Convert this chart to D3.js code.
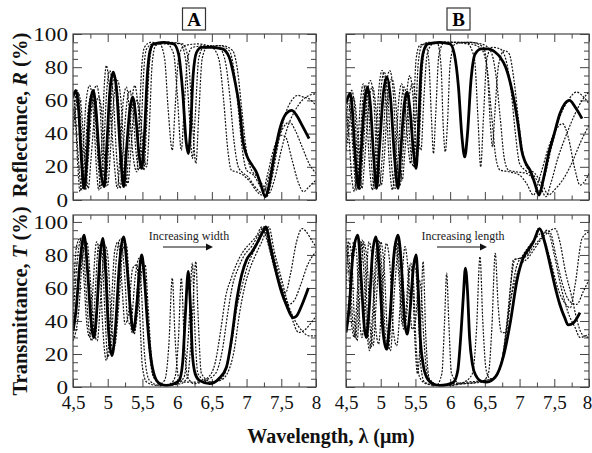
<!DOCTYPE html>
<html>
<head>
<meta charset="utf-8">
<script src="https://cdn.jsdelivr.net/npm/d3@7/dist/d3.min.js"></script>
<style>
  body { margin: 0; background: #fff; }
  svg { display: block; font-family: "Liberation Serif", "Times New Roman", serif; }
</style>
</head>
<body>
<svg id="chart" width="592" height="453"></svg>
<script>
// ---- tick labels ----
const xTicks = [4.5, 5, 5.5, 6, 6.5, 7, 7.5, 8];
const yTicks = [0, 20, 40, 60, 80, 100];

// ---- A, reflectance (wavelength µm, R %) ----
const refASolid = [[4.5,62],[4.54,66],[4.58,55],[4.62,25],[4.66,7],[4.70,25],[4.74,55],[4.79,66],[4.83,55],[4.88,25],[4.95,8],[4.99,35],[5.03,65],[5.08,77],[5.13,65],[5.18,30],[5.23,8],[5.27,30],[5.32,55],[5.36,62],[5.40,52],[5.45,28],[5.49,19],[5.53,40],[5.57,75],[5.61,90],[5.66,94],[5.8,95],[5.95,94],[6.02,88],[6.08,65],[6.13,35],[6.16,28],[6.19,40],[6.23,75],[6.28,89],[6.35,92],[6.5,92],[6.65,91],[6.75,86],[6.83,72],[6.9,55],[6.95,35],[7.0,27],[7.08,21],[7.15,16],[7.2,10],[7.27,2],[7.32,8],[7.4,27],[7.48,43],[7.57,52],[7.65,54],[7.72,51],[7.8,45],[7.9,37]];
const refADot1 = [[4.5,55],[4.53,50],[4.57,20],[4.6,5],[4.64,25],[4.69,60],[4.74,69],[4.79,55],[4.84,18],[4.87,6],[4.91,30],[4.96,75],[4.98,81],[5.02,70],[5.08,30],[5.14,7],[5.18,30],[5.23,62],[5.27,68],[5.31,55],[5.37,25],[5.42,17],[5.45,45],[5.49,80],[5.53,92],[5.62,95],[5.75,94],[5.82,85],[5.87,55],[5.93,30],[5.97,55],[6.02,85],[6.1,93],[6.3,94],[6.5,92],[6.6,85],[6.67,60],[6.73,30],[6.78,18],[6.85,17],[6.95,15],[7.05,11],[7.15,5],[7.22,3],[7.3,15],[7.4,32],[7.5,39],[7.56,38],[7.65,25],[7.75,10],[7.82,5],[7.9,8],[8,12]];
const refADot2 = [[4.5,62],[4.52,60],[4.56,35],[4.63,6],[4.67,25],[4.72,55],[4.77,64],[4.82,50],[4.87,18],[4.9,7],[4.94,30],[4.99,68],[5.03,78],[5.08,62],[5.13,25],[5.18,7],[5.22,30],[5.28,60],[5.32,66],[5.36,55],[5.41,28],[5.45,18],[5.48,40],[5.52,78],[5.56,91],[5.65,94],[5.85,94],[5.95,88],[6.0,65],[6.06,30],[6.1,55],[6.15,85],[6.22,92],[6.45,93],[6.62,91],[6.7,82],[6.76,62],[6.82,35],[6.88,20],[6.93,17],[7.02,14],[7.12,8],[7.24,4],[7.32,14],[7.42,32],[7.52,43],[7.62,47],[7.7,42],[7.8,32],[7.9,22],[8,16]];
const refADot3 = [[4.5,45],[4.53,60],[4.56,66],[4.6,55],[4.64,25],[4.68,6],[4.72,25],[4.78,60],[4.84,69],[4.89,55],[4.93,22],[4.97,8],[5.01,30],[5.06,65],[5.1,75],[5.15,62],[5.21,25],[5.26,8],[5.3,28],[5.35,60],[5.39,69],[5.44,55],[5.49,27],[5.52,18],[5.56,45],[5.6,82],[5.65,93],[5.8,95],[6.05,94],[6.12,85],[6.17,55],[6.22,25],[6.26,50],[6.31,85],[6.38,92],[6.6,93],[6.75,90],[6.82,78],[6.88,55],[6.94,30],[7.0,18],[7.1,15],[7.2,8],[7.29,2],[7.36,12],[7.46,35],[7.56,52],[7.65,60],[7.74,63],[7.82,62],[7.9,61],[8,57]];
const refADot4 = [[4.5,40],[4.54,55],[4.58,64],[4.62,55],[4.67,25],[4.72,7],[4.76,25],[4.82,55],[4.87,62],[4.92,50],[4.96,22],[5.0,9],[5.04,30],[5.09,62],[5.14,72],[5.19,60],[5.24,25],[5.29,10],[5.33,28],[5.38,55],[5.42,60],[5.47,50],[5.52,27],[5.56,20],[5.6,45],[5.64,82],[5.69,93],[5.85,95],[6.08,94],[6.16,85],[6.21,55],[6.27,22],[6.31,50],[6.36,85],[6.43,92],[6.65,93],[6.8,90],[6.87,78],[6.93,55],[6.99,32],[7.05,20],[7.15,14],[7.25,8],[7.32,4],[7.4,12],[7.5,30],[7.6,45],[7.7,54],[7.8,60],[7.9,63],[8,64]];

// ---- A, transmittance (wavelength µm, T %) ----
const trASolid = [[4.5,34],[4.54,45],[4.6,75],[4.66,92],[4.71,70],[4.76,40],[4.8,30],[4.84,45],[4.89,80],[4.93,90],[4.97,70],[5.01,35],[5.06,19],[5.11,35],[5.17,75],[5.23,91],[5.28,72],[5.33,45],[5.37,34],[5.42,50],[5.46,72],[5.49,80],[5.53,65],[5.57,40],[5.62,18],[5.68,6],[5.75,2],[5.85,1],[5.95,2],[6.03,4],[6.08,15],[6.12,45],[6.16,70],[6.19,50],[6.22,20],[6.26,8],[6.32,4],[6.47,2],[6.6,5],[6.71,12],[6.78,28],[6.86,53],[6.93,68],[7.0,77],[7.08,82],[7.15,87],[7.22,93],[7.28,97],[7.33,88],[7.38,78],[7.43,69],[7.5,58],[7.58,49],[7.67,42],[7.72,43],[7.8,50],[7.89,60]];
const trADot1 = [[4.5,50],[4.55,85],[4.6,90],[4.65,70],[4.7,38],[4.74,30],[4.78,55],[4.84,88],[4.88,80],[4.93,35],[4.98,16],[5.04,40],[5.1,82],[5.15,88],[5.2,65],[5.25,38],[5.3,45],[5.36,72],[5.42,74],[5.46,45],[5.5,12],[5.56,3],[5.7,1],[5.82,4],[5.88,25],[5.93,66],[5.97,30],[6.02,6],[6.1,3],[6.3,3],[6.45,6],[6.55,15],[6.63,35],[6.7,55],[6.78,66],[6.86,75],[6.95,82],[7.05,87],[7.15,92],[7.22,97],[7.3,88],[7.4,72],[7.5,60],[7.56,57],[7.63,68],[7.72,88],[7.8,96],[7.86,94],[7.95,88],[8,85]];
const trADot2 = [[4.5,40],[4.57,80],[4.63,91],[4.68,65],[4.73,35],[4.77,28],[4.81,50],[4.87,86],[4.91,85],[4.96,45],[5.0,18],[5.06,35],[5.13,80],[5.19,90],[5.24,70],[5.29,40],[5.33,38],[5.4,68],[5.45,78],[5.49,55],[5.53,20],[5.6,4],[5.75,1],[5.9,2],[5.97,6],[6.02,30],[6.06,66],[6.1,30],[6.15,6],[6.25,2],[6.4,4],[6.55,8],[6.65,22],[6.73,45],[6.8,62],[6.88,72],[6.97,80],[7.07,85],[7.17,92],[7.25,97],[7.32,86],[7.42,70],[7.52,56],[7.6,50],[7.68,52],[7.78,62],[7.88,74],[8,82]];
const trADot3 = [[4.5,30],[4.56,55],[4.62,85],[4.68,88],[4.73,60],[4.78,32],[4.82,30],[4.87,60],[4.93,88],[4.97,82],[5.02,40],[5.08,22],[5.13,45],[5.2,85],[5.25,88],[5.3,60],[5.35,33],[5.39,40],[5.45,70],[5.51,76],[5.55,55],[5.6,22],[5.66,6],[5.8,1],[6.0,2],[6.1,6],[6.16,30],[6.22,75],[6.25,40],[6.3,8],[6.45,3],[6.6,4],[6.7,10],[6.78,25],[6.86,48],[6.94,62],[7.02,74],[7.1,82],[7.2,90],[7.29,97],[7.36,85],[7.45,70],[7.55,55],[7.65,42],[7.75,33],[7.85,35],[7.95,40],[8,43]];
const trADot4 = [[4.5,28],[4.58,45],[4.64,80],[4.7,88],[4.75,65],[4.8,35],[4.85,28],[4.9,55],[4.96,86],[5.0,80],[5.05,40],[5.1,25],[5.16,50],[5.22,84],[5.27,86],[5.32,55],[5.38,32],[5.43,45],[5.5,72],[5.54,74],[5.58,50],[5.63,18],[5.7,4],[5.85,1],[6.05,2],[6.15,6],[6.21,35],[6.27,76],[6.3,45],[6.35,8],[6.5,3],[6.62,4],[6.72,8],[6.82,22],[6.9,45],[6.98,62],[7.05,72],[7.13,80],[7.22,88],[7.32,97],[7.4,82],[7.5,66],[7.6,50],[7.7,40],[7.8,34],[7.9,31],[8,31]];

// ---- B, reflectance ----
const refBSolid = [[4.5,58],[4.53,62],[4.56,64],[4.59,55],[4.63,28],[4.68,7],[4.72,30],[4.77,60],[4.81,68],[4.85,58],[4.9,25],[4.94,7],[4.98,30],[5.04,65],[5.09,74],[5.14,62],[5.2,25],[5.25,7],[5.29,30],[5.34,58],[5.38,65],[5.42,55],[5.47,30],[5.51,19],[5.54,40],[5.58,78],[5.62,90],[5.68,94],[5.85,95],[6.0,94],[6.06,88],[6.12,68],[6.17,38],[6.21,26],[6.25,40],[6.3,72],[6.36,88],[6.45,91],[6.55,91],[6.65,89],[6.72,86],[6.8,80],[6.87,70],[6.93,58],[6.98,45],[7.03,30],[7.08,23],[7.15,18],[7.22,10],[7.28,3],[7.34,12],[7.42,28],[7.5,40],[7.58,52],[7.65,58],[7.72,60],[7.8,56],[7.9,49]];
const refBDot1 = [[4.5,55],[4.54,40],[4.58,15],[4.62,5],[4.66,25],[4.71,60],[4.75,70],[4.79,58],[4.84,20],[4.88,6],[4.92,25],[4.97,65],[5.02,78],[5.07,65],[5.12,25],[5.17,6],[5.21,25],[5.26,60],[5.3,70],[5.35,58],[5.4,30],[5.43,22],[5.47,50],[5.51,85],[5.56,93],[5.64,94],[5.69,85],[5.73,50],[5.76,28],[5.79,50],[5.84,88],[5.92,95],[6.1,95],[6.3,94],[6.45,91],[6.53,80],[6.6,50],[6.66,25],[6.72,18],[6.85,17],[7.0,15],[7.1,10],[7.2,3],[7.3,15],[7.42,32],[7.52,42],[7.62,46],[7.7,38],[7.8,18],[7.87,9],[7.95,12],[8,16]];
const refBDot2 = [[4.5,45],[4.53,58],[4.56,55],[4.6,30],[4.65,6],[4.69,25],[4.74,60],[4.78,69],[4.82,58],[4.87,20],[4.91,7],[4.95,25],[5.0,65],[5.05,77],[5.1,65],[5.15,25],[5.21,7],[5.25,25],[5.3,60],[5.34,68],[5.38,58],[5.43,30],[5.47,20],[5.5,45],[5.54,82],[5.59,93],[5.7,95],[5.82,94],[5.87,80],[5.9,45],[5.93,29],[5.96,45],[6.0,82],[6.07,94],[6.25,95],[6.45,94],[6.58,90],[6.66,75],[6.72,50],[6.78,25],[6.84,18],[6.95,17],[7.1,16],[7.2,12],[7.28,5],[7.36,14],[7.46,32],[7.58,50],[7.7,60],[7.82,65],[7.9,63],[8,58]];
const refBDot3 = [[4.5,35],[4.54,50],[4.58,66],[4.62,58],[4.66,25],[4.7,6],[4.74,25],[4.8,62],[4.85,72],[4.9,60],[4.94,25],[4.98,8],[5.02,25],[5.08,68],[5.13,78],[5.18,65],[5.23,25],[5.28,9],[5.32,28],[5.37,62],[5.42,75],[5.47,60],[5.52,25],[5.56,40],[5.6,80],[5.65,93],[5.8,95],[6.0,95],[6.25,94],[6.35,85],[6.4,50],[6.44,20],[6.48,50],[6.53,85],[6.6,92],[6.72,91],[6.8,85],[6.88,65],[6.94,40],[7.0,22],[7.08,18],[7.2,15],[7.3,8],[7.38,2],[7.45,10],[7.55,25],[7.68,40],[7.8,52],[7.9,60],[8,65]];
const refBDot4 = [[4.5,30],[4.55,45],[4.6,62],[4.64,55],[4.69,25],[4.73,7],[4.77,25],[4.83,60],[4.88,68],[4.93,55],[4.97,25],[5.01,9],[5.05,25],[5.11,65],[5.16,73],[5.21,62],[5.26,30],[5.31,12],[5.35,30],[5.41,62],[5.46,70],[5.51,58],[5.55,35],[5.58,30],[5.62,60],[5.67,88],[5.75,94],[6.0,95],[6.3,95],[6.48,92],[6.54,75],[6.58,45],[6.61,32],[6.64,50],[6.7,82],[6.78,90],[6.85,88],[6.92,72],[6.98,50],[7.04,30],[7.1,20],[7.22,16],[7.32,10],[7.42,3],[7.5,6],[7.62,12],[7.75,22],[7.88,35],[8,45]];

// ---- B, transmittance ----
const trBSolid = [[4.5,33],[4.54,45],[4.6,80],[4.67,92],[4.72,65],[4.76,38],[4.79,30],[4.83,45],[4.88,80],[4.93,91],[4.98,70],[5.03,35],[5.08,23],[5.13,40],[5.19,80],[5.25,92],[5.3,72],[5.34,42],[5.38,32],[5.42,45],[5.47,72],[5.51,80],[5.54,60],[5.57,30],[5.61,14],[5.66,6],[5.75,2],[5.85,1],[5.95,1.5],[6.05,3],[6.11,10],[6.16,35],[6.19,55],[6.22,72],[6.25,58],[6.28,30],[6.32,14],[6.37,7],[6.45,3.5],[6.53,3],[6.65,6],[6.77,19],[6.87,40],[6.96,64],[7.05,78],[7.12,83],[7.2,88],[7.29,96],[7.36,88],[7.44,74],[7.51,61],[7.58,50],[7.65,42],[7.7,37.6],[7.78,39],[7.87,45]];
const trBDot1 = [[4.5,85],[4.54,70],[4.58,38],[4.62,30],[4.66,55],[4.71,88],[4.75,75],[4.8,35],[4.84,22],[4.89,50],[4.95,88],[5.0,72],[5.05,32],[5.09,22],[5.15,55],[5.21,88],[5.26,68],[5.31,38],[5.35,40],[5.41,72],[5.45,70],[5.49,30],[5.53,8],[5.57,30],[5.61,76],[5.65,30],[5.7,5],[5.85,1],[6.05,2],[6.25,3],[6.5,4],[6.65,6],[6.74,15],[6.82,40],[6.88,65],[6.93,77],[7.0,78],[7.1,80],[7.2,88],[7.27,96],[7.35,90],[7.45,76],[7.55,60],[7.65,51],[7.73,48],[7.8,62],[7.9,90],[8,94]];
const trBDot2 = [[4.5,90],[4.55,75],[4.6,38],[4.64,30],[4.68,58],[4.73,89],[4.78,72],[4.82,32],[4.86,24],[4.91,55],[4.97,89],[5.02,70],[5.07,30],[5.11,23],[5.17,60],[5.23,89],[5.28,65],[5.33,35],[5.37,42],[5.43,75],[5.47,65],[5.51,25],[5.56,6],[5.65,2],[5.8,1],[5.88,8],[5.92,40],[5.95,69],[5.98,40],[6.02,8],[6.15,2],[6.4,3],[6.6,5],[6.72,12],[6.8,30],[6.88,55],[6.95,72],[7.05,80],[7.15,86],[7.25,91],[7.35,94],[7.42,93],[7.5,80],[7.6,60],[7.7,45],[7.8,36],[7.87,30],[7.95,31],[8,32]];
const trBDot3 = [[4.5,60],[4.54,88],[4.58,80],[4.62,42],[4.66,28],[4.7,55],[4.75,88],[4.8,78],[4.85,35],[4.89,25],[4.94,55],[5.0,88],[5.05,72],[5.1,30],[5.14,22],[5.2,60],[5.27,88],[5.32,65],[5.37,35],[5.41,40],[5.47,72],[5.5,72],[5.54,45],[5.58,12],[5.63,3],[5.8,1],[6.0,1],[6.2,3],[6.32,8],[6.38,35],[6.43,79],[6.47,40],[6.52,10],[6.58,5],[6.68,8],[6.78,25],[6.86,55],[6.91,77],[7.0,78],[7.1,79],[7.2,85],[7.3,90],[7.4,95],[7.45,93],[7.52,80],[7.62,62],[7.72,52],[7.82,50],[7.92,58],[8,65]];
const trBDot4 = [[4.5,35],[4.56,60],[4.61,88],[4.65,82],[4.69,45],[4.73,30],[4.78,55],[4.83,88],[4.87,80],[4.92,40],[4.97,26],[5.02,55],[5.08,87],[5.13,75],[5.18,35],[5.23,25],[5.29,55],[5.35,85],[5.4,68],[5.45,35],[5.5,40],[5.55,65],[5.58,60],[5.62,30],[5.67,8],[5.75,2],[5.95,1],[6.2,2],[6.45,3],[6.55,8],[6.6,35],[6.65,81],[6.69,50],[6.74,33],[6.8,33],[6.86,50],[6.94,65],[7.02,74],[7.12,78],[7.22,84],[7.32,90],[7.42,94],[7.51,96],[7.58,88],[7.66,70],[7.75,55],[7.83,40],[7.9,32],[8,30]];

const panels = [
  { col: 0, row: 0, title: 'A', solid: refASolid, dotted: [refADot1, refADot2, refADot3, refADot4] },
  { col: 1, row: 0, title: 'B', solid: refBSolid, dotted: [refBDot1, refBDot2, refBDot3, refBDot4] },
  { col: 0, row: 1, note: 'Increasing width', solid: trASolid, dotted: [trADot1, trADot2, trADot3, trADot4] },
  { col: 1, row: 1, note: 'Increasing length', solid: trBSolid, dotted: [trBDot1, trBDot2, trBDot3, trBDot4] }
];

const colX = [73, 346];
const panelW = 243;
const rows = [
  { top: 34, h: 166, yMax: 100 },
  { top: 215, h: 172, yMax: 104.2 }
];

const svg = d3.select('#chart');
const defs = svg.append('defs');
const fmt = d => String(d).replace('.', ',');
const xMinor = d3.range(4.5, 8.001, 0.25).filter(v => !xTicks.includes(v));
const yMinor = d3.range(0, 100.1, 5).filter(v => v % 20 !== 0);

panels.forEach((p, i) => {
  const r = rows[p.row];
  const g = svg.append('g').attr('transform', `translate(${colX[p.col]},${r.top})`);
  const x = d3.scaleLinear().domain([4.5, 8]).range([0, panelW]);
  const y = d3.scaleLinear().domain([0, r.yMax]).range([r.h, 0]);

  defs.append('clipPath').attr('id', 'clip' + i)
    .append('rect').attr('width', panelW).attr('height', r.h);

  // ticks all round, pointing inwards
  const axes = [
    [d3.axisBottom(x), `translate(0,${r.h})`, xTicks, xMinor, 8, 4.5],
    [d3.axisTop(x), null, xTicks, xMinor, 8, 4.5],
    [d3.axisLeft(y), null, yTicks, yMinor, 9, 5],
    [d3.axisRight(y), `translate(${panelW},0)`, yTicks, yMinor, 9, 5]
  ];
  axes.forEach(([ax, tr, major, minor, big, small]) => {
    const a1 = g.append('g').attr('transform', tr)
      .call(ax.tickValues(major).tickSizeInner(-big).tickSizeOuter(0).tickFormat(() => ''));
    const a2 = g.append('g').attr('transform', tr)
      .call(ax.tickValues(minor).tickSizeInner(-small).tickSizeOuter(0).tickFormat(() => ''));
    [a1, a2].forEach(a => {
      a.select('.domain').remove();
      a.selectAll('line').attr('stroke', '#444').attr('stroke-width', 1);
    });
  });

  if (p.row === 1) {
    g.append('g').attr('transform', `translate(0,${r.h})`)
      .call(d3.axisBottom(x).tickValues(xTicks).tickSize(0).tickPadding(9).tickFormat(fmt))
      .call(a => a.select('.domain').remove())
      .selectAll('text')
      .attr('x', d => (p.col === 1 && d === 8) ? -2 : 0)
      .attr('font-family', '"Liberation Serif", serif')
      .attr('font-size', 19)
      .attr('fill', '#111');
  }
  if (p.col === 0) {
    g.append('g')
      .call(d3.axisLeft(y).tickValues(yTicks).tickSize(0).tickPadding(5))
      .call(a => a.select('.domain').remove())
      .selectAll('text')
      .attr('x', 0)
      .attr('transform', 'translate(-5,0) scale(1.22,1)')
      .attr('font-family', '"Liberation Serif", serif')
      .attr('font-size', 19)
      .attr('fill', '#111');
  }

  const line = d3.line()
    .x(d => x(d[0]))
    .y(d => y(d[1]))
    .curve(d3.curveMonotoneX);

  const plot = g.append('g').attr('clip-path', `url(#clip${i})`);
  plot.selectAll('.dot')
    .data(p.dotted)
    .join('path')
    .attr('class', 'dot')
    .attr('d', line)
    .attr('fill', 'none')
    .attr('stroke', '#111')
    .attr('stroke-width', 1.2)
    .attr('stroke-dasharray', '2,1.4');
  plot.append('path')
    .attr('d', line(p.solid))
    .attr('fill', 'none')
    .attr('stroke', '#000')
    .attr('stroke-width', 2.8);

  g.append('rect')
    .attr('width', panelW).attr('height', r.h)
    .attr('fill', 'none').attr('stroke', '#444').attr('stroke-width', 1.2);

  if (p.title) {
    const cx = panelW / 2 + (p.col === 0 ? -0.5 : -9);
    svg.append('rect')
      .attr('x', colX[p.col] + cx - 11.5).attr('y', 8)
      .attr('width', 23).attr('height', 22)
      .attr('fill', '#fff').attr('stroke', '#333').attr('stroke-width', 1.2);
    svg.append('text')
      .attr('x', colX[p.col] + cx).attr('y', 26)
      .attr('text-anchor', 'middle')
      .attr('font-weight', 'bold').attr('font-size', 19)
      .text(p.title);
  }

  if (p.note) {
    const nx = p.col === 0 ? 116 : 117;
    g.append('text')
      .attr('x', nx).attr('y', 25)
      .attr('text-anchor', 'middle')
      .attr('font-size', 12)
      .attr('fill', '#222')
      .text(p.note);
    const ax0 = nx - 26, ax1 = nx + 24;
    g.append('line')
      .attr('x1', ax0).attr('x2', ax1 - 5)
      .attr('y1', 32).attr('y2', 32)
      .attr('stroke', '#111').attr('stroke-width', 1.2);
    g.append('path')
      .attr('d', `M${ax1},32 L${ax1 - 7},28.5 L${ax1 - 7},35.5 Z`)
      .attr('fill', '#111');
  }
});

// axis titles
const yTitle = (txt, sym, rest, cy) => {
  const t = svg.append('text')
    .attr('transform', `translate(27,${cy}) rotate(-90)`)
    .attr('text-anchor', 'middle')
    .attr('font-weight', 'bold')
    .attr('font-size', 20.5)
    .attr('fill', '#111');
  t.append('tspan').text(txt);
  t.append('tspan').attr('font-style', 'italic').text(sym);
  t.append('tspan').text(rest);
};
yTitle('Reflectance, ', 'R', ' (%)', 115);
yTitle('Transmittance, ', 'T', ' (%)', 301);

svg.append('text')
  .attr('x', 331).attr('y', 443)
  .attr('text-anchor', 'middle')
  .attr('font-weight', 'bold')
  .attr('font-size', 20)
  .attr('fill', '#111')
  .text('Wavelength, λ (μm)');
</script>
</body>
</html>
